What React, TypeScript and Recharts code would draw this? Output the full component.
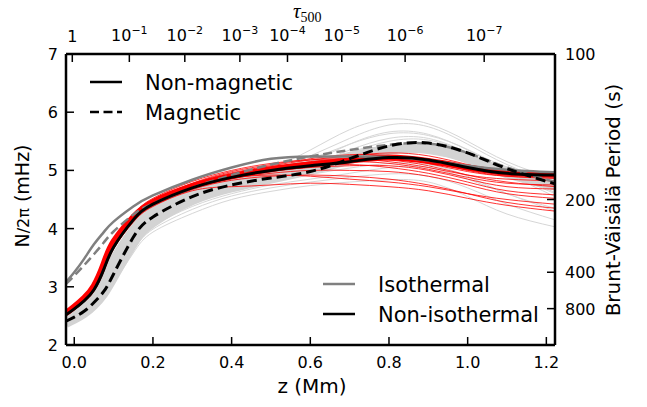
import React from 'react';
import { LineChart, Line, XAxis, YAxis } from 'recharts';

// Height grid z (Mm) shared by every profile
const Z = [-0.021, 0.0, 0.025, 0.05, 0.075, 0.1, 0.15, 0.2, 0.3, 0.4, 0.5, 0.6, 0.7, 0.8, 0.9, 1.0, 1.1, 1.222];

// Mean Brunt-Väisälä frequency profiles, N/2π in mHz
const BLACK_SOLID = [2.52, 2.62, 2.76, 2.95, 3.3, 3.68, 4.15, 4.42, 4.7, 4.88, 5.0, 5.08, 5.15, 5.22, 5.18, 5.05, 4.95, 4.92];
const BLACK_DASHED = [2.41, 2.48, 2.58, 2.73, 2.92, 3.22, 3.85, 4.2, 4.55, 4.75, 4.87, 4.98, 5.2, 5.42, 5.47, 5.3, 5.03, 4.77];
const GRAY_SOLID = [3.08, 3.25, 3.48, 3.73, 3.94, 4.12, 4.38, 4.57, 4.84, 5.05, 5.2, 5.24, 5.24, 5.23, 5.17, 5.08, 5.01, 4.97];
const GRAY_DASHED = [3.05, 3.19, 3.37, 3.56, 3.76, 3.95, 4.24, 4.43, 4.7, 4.92, 5.1, 5.24, 5.35, 5.44, 5.46, 5.3, 5.05, 4.8];
const RED_THICK = [2.55, 2.66, 2.81, 3.02, 3.4, 3.78, 4.2, 4.46, 4.73, 4.9, 5.02, 5.1, 5.17, 5.22, 5.16, 5.05, 4.96, 4.93];

// Dense core of the gray ensemble
const BAND_LOW = [2.37, 2.44, 2.54, 2.68, 2.88, 3.16, 3.74, 4.1, 4.48, 4.7, 4.85, 5.0, 5.18, 5.35, 5.37, 5.2, 4.95, 4.74];
const BAND_MID = [2.46, 2.54, 2.66, 2.84, 3.12, 3.46, 3.98, 4.3, 4.62, 4.83, 4.96, 5.09, 5.24, 5.36, 5.36, 5.2, 4.98, 4.85];

// Individual gray profiles
const G1 = [2.46, 2.55, 2.68, 2.86, 3.15, 3.5, 4.02, 4.32, 4.64, 4.86, 5.05, 5.35, 5.7, 5.88, 5.8, 5.5, 5.15, 4.85];
const G2 = [2.44, 2.52, 2.64, 2.82, 3.1, 3.44, 3.96, 4.28, 4.6, 4.83, 5.0, 5.25, 5.55, 5.78, 5.75, 5.45, 5.1, 4.78];
const G3 = [2.42, 2.5, 2.61, 2.78, 3.03, 3.36, 3.9, 4.22, 4.56, 4.78, 4.95, 5.15, 5.45, 5.66, 5.62, 5.35, 5.0, 4.62];
const G4 = [2.4, 2.47, 2.58, 2.74, 2.97, 3.28, 3.84, 4.17, 4.51, 4.73, 4.88, 5.05, 5.3, 5.5, 5.52, 5.3, 5.0, 4.7];
const G5 = [2.38, 2.45, 2.55, 2.7, 2.92, 3.22, 3.78, 4.12, 4.46, 4.68, 4.84, 4.98, 5.15, 5.3, 5.35, 5.2, 4.95, 4.6];
const G6 = [2.36, 2.43, 2.52, 2.66, 2.86, 3.14, 3.68, 4.04, 4.38, 4.6, 4.75, 4.85, 4.95, 5.05, 5.05, 4.85, 4.6, 4.3];
const G7 = [2.34, 2.4, 2.49, 2.62, 2.8, 3.06, 3.58, 3.94, 4.26, 4.5, 4.64, 4.74, 4.8, 4.84, 4.8, 4.55, 4.25, 4.03];
const G8 = [2.41, 2.48, 2.6, 2.76, 3.0, 3.32, 3.86, 4.2, 4.53, 4.75, 4.92, 5.1, 5.35, 5.55, 5.55, 5.3, 4.95, 4.55];
const G9 = [2.45, 2.53, 2.66, 2.84, 3.12, 3.47, 3.98, 4.3, 4.62, 4.84, 4.98, 5.12, 5.3, 5.4, 5.35, 5.12, 4.87, 4.66];
const G10 = [2.37, 2.44, 2.54, 2.68, 2.89, 3.18, 3.72, 4.08, 4.42, 4.65, 4.8, 4.93, 5.04, 5.12, 5.1, 4.9, 4.6, 4.35];
const G11 = [2.47, 2.56, 2.7, 2.88, 3.18, 3.54, 4.04, 4.33, 4.64, 4.85, 5.02, 5.2, 5.45, 5.63, 5.6, 5.36, 5.06, 4.9];
const G12 = [2.35, 2.41, 2.5, 2.64, 2.83, 3.1, 3.63, 3.99, 4.33, 4.56, 4.7, 4.8, 4.88, 4.94, 4.9, 4.7, 4.42, 4.15];
const GRAY_THIN = [G1, G2, G3, G4, G5, G6, G7, G8, G9, G10, G11, G12];

// Individual red profiles
const R1 = [2.56, 2.67, 2.82, 3.02, 3.38, 3.77, 4.22, 4.48, 4.77, 4.96, 5.08, 5.18, 5.25, 5.3, 5.25, 5.1, 4.98, 4.95];
const R2 = [2.54, 2.64, 2.79, 2.98, 3.34, 3.73, 4.18, 4.45, 4.73, 4.91, 5.03, 5.1, 5.18, 5.22, 5.15, 5.0, 4.9, 4.86];
const R3 = [2.53, 2.63, 2.77, 2.96, 3.31, 3.7, 4.16, 4.43, 4.71, 4.89, 4.99, 5.05, 5.08, 5.08, 5.0, 4.85, 4.72, 4.68];
const R4 = [2.52, 2.62, 2.76, 2.94, 3.29, 3.68, 4.14, 4.41, 4.69, 4.86, 4.95, 5.0, 5.0, 4.98, 4.9, 4.75, 4.6, 4.52];
const R5 = [2.51, 2.61, 2.75, 2.93, 3.27, 3.66, 4.12, 4.39, 4.67, 4.83, 4.9, 4.92, 4.9, 4.85, 4.75, 4.6, 4.45, 4.35];
const R6 = [2.55, 2.65, 2.8, 2.99, 3.35, 3.75, 4.19, 4.47, 4.76, 4.94, 5.06, 5.12, 5.15, 5.12, 5.02, 4.88, 4.78, 4.75];
const R7 = [2.53, 2.63, 2.77, 2.96, 3.31, 3.71, 4.16, 4.44, 4.71, 4.87, 4.92, 4.9, 4.85, 4.8, 4.72, 4.6, 4.5, 4.42];
const R8 = [2.54, 2.64, 2.78, 2.97, 3.33, 3.73, 4.18, 4.46, 4.75, 4.93, 5.05, 5.15, 5.2, 5.18, 5.08, 4.92, 4.8, 4.72];
const R9 = [2.56, 2.68, 2.83, 3.04, 3.41, 3.8, 4.24, 4.52, 4.81, 5.0, 5.12, 5.18, 5.2, 5.15, 5.05, 4.92, 4.85, 4.82];
const R10 = [2.5, 2.6, 2.74, 2.92, 3.26, 3.65, 4.11, 4.38, 4.65, 4.72, 4.75, 4.78, 4.76, 4.72, 4.65, 4.52, 4.4, 4.3];
const R11 = [2.53, 2.63, 2.77, 2.96, 3.31, 3.7, 4.16, 4.43, 4.72, 4.9, 5.02, 5.08, 5.1, 5.05, 4.95, 4.8, 4.65, 4.58];
const R12 = [2.55, 2.66, 2.8, 3.0, 3.36, 3.76, 4.2, 4.48, 4.78, 4.98, 5.1, 5.2, 5.27, 5.25, 5.12, 4.98, 4.9, 4.88];
const RED_THIN = [R1, R2, R3, R4, R5, R6, R7, R8, R9, R10, R11, R12];

// Axis ticks
const X_TICKS = [0, 0.2, 0.4, 0.6, 0.8, 1.0, 1.2];
const Y_TICKS = [2, 3, 4, 5, 6, 7];
const TAU_Z = [-0.005, 0.14, 0.281, 0.421, 0.542, 0.68, 0.841, 1.042];
const TAU_EXP = [0, -1, -2, -3, -4, -5, -6, -7];
const PERIOD_POS = [7, 4.5, 3.25, 2.625];
const PERIOD_LABELS = ['100', '200', '400', '800'];

const X_DOMAIN: [number, number] = [-0.021, 1.222];
const FONT = '"DejaVu Sans", sans-serif';
const TICK_LEN = 8;
const CURVE = 'natural';

const rows = Z.map((z, i) => {
  const row: Record<string, number> = {
    z,
    bs: BLACK_SOLID[i],
    bd: BLACK_DASHED[i],
    gs: GRAY_SOLID[i],
    gd: GRAY_DASHED[i],
    rt: RED_THICK[i],
    bandLow: BAND_LOW[i],
    bandMid: BAND_MID[i],
  };
  GRAY_THIN.forEach((s, k) => { row['g' + k] = s[i]; });
  RED_THIN.forEach((s, k) => { row['r' + k] = s[i]; });
  return row;
});

function BottomTick(props: any) {
  const { x, y, payload } = props;
  return (
    <g>
      <line x1={x} y1={y} x2={x} y2={y - TICK_LEN} stroke="#000" strokeWidth={1.5} />
      <text x={x} y={y + 23} textAnchor="middle" fontSize={16} fontFamily={FONT} fill="#000">
        {Number(payload.value).toFixed(1)}
      </text>
    </g>
  );
}

function TopTick(props: any) {
  const { x, y, payload } = props;
  const idx = TAU_Z.indexOf(payload.value);
  const e = TAU_EXP[idx];
  return (
    <g>
      <line x1={x} y1={y} x2={x} y2={y + TICK_LEN} stroke="#000" strokeWidth={1.5} />
      {e === 0 ? (
        <text x={x} y={y - 12} textAnchor="middle" fontSize={16} fontFamily={FONT} fill="#000">1</text>
      ) : (
        <text x={x} y={y - 13} textAnchor="middle" fontSize={16} fontFamily={FONT} fill="#000">
          10<tspan fontSize={11} dy={-7}>{'\u2212' + Math.abs(e)}</tspan>
        </text>
      )}
    </g>
  );
}

function LeftTick(props: any) {
  const { x, y, payload } = props;
  return (
    <g>
      <line x1={x} y1={y} x2={x + TICK_LEN} y2={y} stroke="#000" strokeWidth={1.5} />
      <text x={x - 8} y={y + 6} textAnchor="end" fontSize={16} fontFamily={FONT} fill="#000">
        {payload.value}
      </text>
    </g>
  );
}

function RightTick(props: any) {
  const { x, y, payload } = props;
  const idx = PERIOD_POS.indexOf(payload.value);
  return (
    <g>
      <line x1={x} y1={y} x2={x - TICK_LEN} y2={y} stroke="#000" strokeWidth={1.5} />
      <text x={x + 10} y={y + 6} textAnchor="start" fontSize={16} fontFamily={FONT} fill="#000">
        {PERIOD_LABELS[idx]}
      </text>
    </g>
  );
}

const axisLine = { stroke: '#000', strokeWidth: 2.5 };

export default function App() {
  return (
    <div style={{ position: 'absolute', left: 0, top: 0, width: 647, height: 407, background: '#fff' }}>
      <LineChart
        width={647}
        height={407}
        data={rows}
        margin={{ top: 24, right: 42, bottom: 32, left: 16 }}
      >
        <XAxis
          dataKey="z"
          type="number"
          domain={X_DOMAIN}
          allowDataOverflow
          ticks={X_TICKS}
          interval={0}
          height={30}
          tickSize={0}
          tickMargin={0}
          tickLine={false}
          axisLine={axisLine}
          tick={(p: any) => <BottomTick {...p} />}
        />
        <XAxis
          xAxisId="tau"
          dataKey="z"
          orientation="top"
          type="number"
          domain={X_DOMAIN}
          allowDataOverflow
          ticks={TAU_Z}
          interval={0}
          height={30}
          tickSize={0}
          tickMargin={0}
          tickLine={false}
          axisLine={axisLine}
          tick={(p: any) => <TopTick {...p} />}
        />
        <YAxis
          type="number"
          domain={[2, 7]}
          allowDataOverflow
          ticks={Y_TICKS}
          interval={0}
          width={50}
          tickSize={0}
          tickMargin={0}
          tickLine={false}
          axisLine={axisLine}
          tick={(p: any) => <LeftTick {...p} />}
        />
        <YAxis
          yAxisId="period"
          orientation="right"
          type="number"
          domain={[2, 7]}
          allowDataOverflow
          ticks={PERIOD_POS}
          interval={0}
          width={50}
          tickSize={0}
          tickMargin={0}
          tickLine={false}
          axisLine={axisLine}
          tick={(p: any) => <RightTick {...p} />}
        />

        {GRAY_THIN.map((_, k) => (
          <Line key={'g' + k} dataKey={'g' + k} type={CURVE} stroke="#d6d6d6" strokeWidth={1}
            dot={false} activeDot={false} isAnimationActive={false} />
        ))}
        <Line dataKey="bandLow" type={CURVE} stroke="#d3d3d3" strokeWidth={9}
          dot={false} activeDot={false} isAnimationActive={false} />
        <Line dataKey="bandMid" type={CURVE} stroke="#d3d3d3" strokeWidth={9}
          dot={false} activeDot={false} isAnimationActive={false} />
        {RED_THIN.map((_, k) => (
          <Line key={'r' + k} dataKey={'r' + k} type={CURVE} stroke="#ff0000" strokeWidth={0.8}
            dot={false} activeDot={false} isAnimationActive={false} />
        ))}
        <Line dataKey="rt" type={CURVE} stroke="#ff0000" strokeWidth={6}
          dot={false} activeDot={false} isAnimationActive={false} />
        <Line dataKey="gs" type={CURVE} stroke="#808080" strokeWidth={2.5}
          dot={false} activeDot={false} isAnimationActive={false} />
        <Line dataKey="gd" type={CURVE} stroke="#808080" strokeWidth={2.5} strokeDasharray="9 4.5"
          dot={false} activeDot={false} isAnimationActive={false} />
        <Line dataKey="bs" type={CURVE} stroke="#000000" strokeWidth={3}
          dot={false} activeDot={false} isAnimationActive={false} />
        <Line dataKey="bd" type={CURVE} stroke="#000000" strokeWidth={3} strokeDasharray="10 5"
          dot={false} activeDot={false} isAnimationActive={false} />
      </LineChart>

      <svg width={647} height={407} style={{ position: 'absolute', left: 0, top: 0, pointerEvents: 'none' }}>
        {/* optical depth title */}
        <text x={293} y={18} fontSize={21} fontStyle="italic" fontFamily='"Liberation Serif", serif' fill="#000">
          τ<tspan fontSize={14} fontStyle="normal" dy={4}>500</tspan>
        </text>

        {/* axis titles */}
        <text x={312} y={393} textAnchor="middle" fontSize={20} fontFamily={FONT} fill="#000">z (Mm)</text>
        <text transform="translate(29,196) rotate(-90)" textAnchor="middle" fontSize={19} fontFamily={FONT} fill="#000">
          N<tspan fontSize={16}>/2π</tspan> (mHz)
        </text>
        <text transform="translate(620,200) rotate(-90)" textAnchor="middle" fontSize={20} fontFamily={FONT} fill="#000">
          Brunt-Väisälä Period (s)
        </text>

        {/* magnetic / non-magnetic legend */}
        <line x1={90} y1={82} x2={122} y2={82} stroke="#000" strokeWidth={2.5} />
        <text x={145} y={90} fontSize={21} fontFamily={FONT} fill="#000">Non-magnetic</text>
        <line x1={90} y1={112} x2={122} y2={112} stroke="#000" strokeWidth={2.5} strokeDasharray="9 4.5" />
        <text x={145} y={120} fontSize={21} fontFamily={FONT} fill="#000">Magnetic</text>

        {/* isothermal legend */}
        <line x1={323} y1={284} x2={355} y2={284} stroke="#808080" strokeWidth={2.5} />
        <text x={378} y={292} fontSize={21} fontFamily={FONT} fill="#000">Isothermal</text>
        <line x1={323} y1={314} x2={355} y2={314} stroke="#000" strokeWidth={2.5} />
        <text x={378} y={322} fontSize={21} fontFamily={FONT} fill="#000">Non-isothermal</text>
      </svg>
    </div>
  );
}
